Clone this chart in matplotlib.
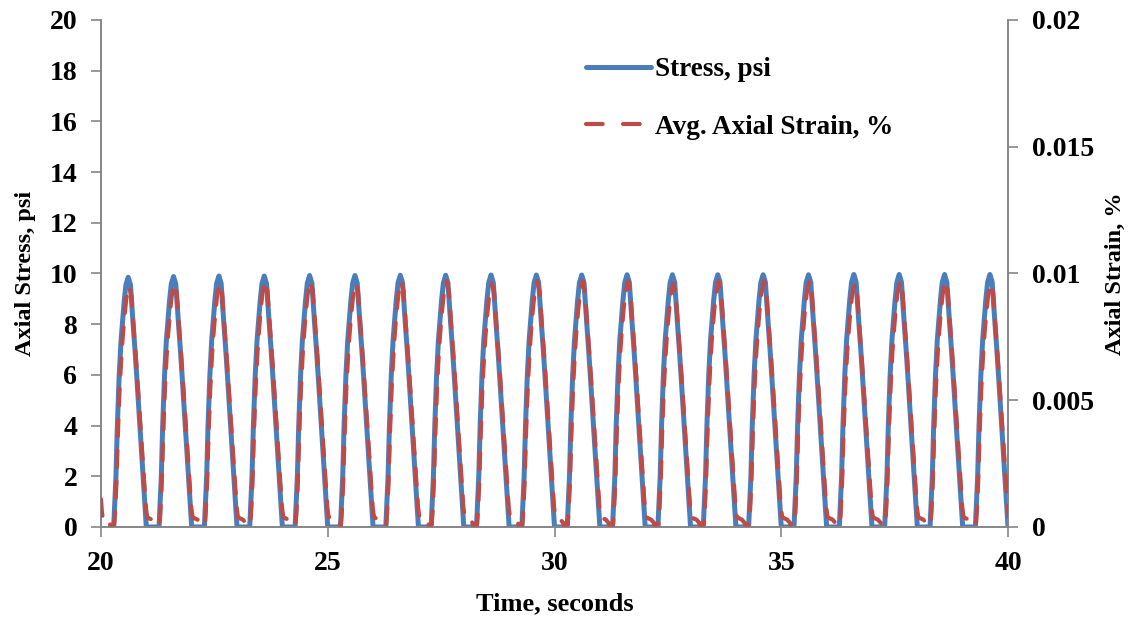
import numpy as np
import matplotlib
matplotlib.use('Agg')
import matplotlib.pyplot as plt
from matplotlib.lines import Line2D

# Load pulse peaks, one per second
peak_times = [20.6, 21.6, 22.6, 23.6, 24.6, 25.6, 26.6, 27.6, 28.6, 29.6,
              30.6, 31.6, 32.6, 33.6, 34.6, 35.6, 36.6, 37.6, 38.6, 39.6]
stress_peaks = [9.85, 9.88, 9.90, 9.90, 9.92, 9.92, 9.93, 9.93, 9.94, 9.94,
                9.94, 9.95, 9.95, 9.95, 9.95, 9.95, 9.96, 9.96, 9.96, 9.96]
strain_peaks = [0.0095, 0.0096, 0.0096, 0.0097, 0.0097, 0.0096, 0.0097, 0.0097, 0.0096, 0.0097,
                0.0097, 0.0097, 0.0096, 0.0097, 0.0097, 0.0097, 0.0096, 0.0097, 0.0097, 0.0096]

# Shape of one stress pulse (seconds from peak, fraction of peak)
stress_offsets = [-0.40, -0.32, -0.30, -0.27, -0.24, -0.20, -0.16, -0.13, -0.09, -0.05, 0.0,
                  0.05, 0.11, 0.15, 0.19, 0.26, 0.33, 0.37, 0.40, 0.60]
stress_shape = [0.0, 0.0, 0.08, 0.20, 0.40, 0.60, 0.74, 0.81, 0.90, 0.97, 1.0,
                0.97, 0.81, 0.71, 0.60, 0.40, 0.20, 0.08, 0.0, 0.0]

# Strain lags a little and does not fully recover between pulses
strain_offsets = [-0.40, -0.31, -0.29, -0.26, -0.23, -0.19, -0.15, -0.12, -0.08, -0.04, 0.02,
                  0.07, 0.13, 0.17, 0.21, 0.28, 0.35, 0.39, 0.42, 0.47, 0.53, 0.60]
strain_shape = [0.01, 0.01, 0.06, 0.18, 0.37, 0.57, 0.71, 0.79, 0.88, 0.95, 1.0,
                0.96, 0.80, 0.70, 0.59, 0.39, 0.19, 0.08, 0.04, 0.035, 0.03, 0.015]

# start of the record, tail of the previous pulse
strain_lead_t = [20.0, 20.02, 20.05, 20.10]
strain_lead_v = [0.0011, 0.0006, 0.0002, 0.0001]


def build_series(peaks, heights, offsets, shape):
    t, v = [], []
    for p, h in zip(peaks, heights):
        for o, s in zip(offsets, shape):
            t.append(p + o)
            v.append(h * s)
    return np.array(t), np.array(v)


stress_t, stress_v = build_series(peak_times, stress_peaks, stress_offsets, stress_shape)
strain_t, strain_v = build_series(peak_times, strain_peaks, strain_offsets, strain_shape)
keep = strain_t > strain_lead_t[-1]
strain_t = np.concatenate([strain_lead_t, strain_t[keep]])
strain_v = np.concatenate([strain_lead_v, strain_v[keep]])

plt.rcParams['font.family'] = ['Liberation Serif', 'DejaVu Serif']
plt.rcParams['font.weight'] = 'bold'

fig = plt.figure(figsize=(11.32, 6.21), dpi=100)
ax1 = fig.add_axes([0.0892, 0.1514, 0.8013, 0.8164])
ax2 = ax1.twinx()

axis_grey = '#868686'
blue = '#4A7EBB'
red = '#BE4B48'

ax1.plot(stress_t, stress_v, color=blue, lw=3.6, solid_capstyle='round',
         solid_joinstyle='round', zorder=2)
ax2.plot(strain_t, strain_v, color=red, lw=3.0, dashes=(4.0, 3.4),
         dash_capstyle='round', zorder=3)

ax1.set_xlim(20, 40)
ax1.set_ylim(0, 20)
ax2.set_ylim(0, 0.02)
ax1.set_xticks([20, 25, 30, 35, 40])
ax1.set_yticks(range(0, 21, 2))
ax2.set_yticks([0, 0.005, 0.01, 0.015, 0.02])
ax2.set_yticklabels(['0', '0.005', '0.01', '0.015', '0.02'])

for ax in (ax1, ax2):
    ax.spines['top'].set_visible(False)
    for s in ('left', 'right', 'bottom'):
        ax.spines[s].set_color(axis_grey)
        ax.spines[s].set_linewidth(1.2)
    ax.tick_params(colors=axis_grey, labelcolor='black', labelsize=20,
                   width=1.2, length=7, direction='out')
ax1.tick_params(axis='x', pad=10)
ax1.tick_params(axis='y', pad=10)
ax2.tick_params(axis='y', pad=10)

ax1.set_xlabel('Time, seconds', fontsize=19, fontweight='bold', labelpad=12)
ax1.set_ylabel('Axial Stress, psi', fontsize=17.5, fontweight='bold', labelpad=10)
ax2.set_ylabel('Axial Strain, %', fontsize=17.5, fontweight='bold', labelpad=8)

# legend keys drawn separately so the dashed key shows two full dashes
key_stress = Line2D([], [], color=blue, lw=3.6, solid_capstyle='round')
key_strain = Line2D([], [], color=red, lw=3.0, dashes=(4.0, 4.9), dash_capstyle='round')
ax2.legend([key_stress, key_strain], ['Stress, psi', 'Avg. Axial Strain, %'], loc='upper left',
           bbox_to_anchor=(0.508, 0.975), frameon=False, fontsize=19.5,
           handlelength=2.4, handletextpad=0.15, labelspacing=1.2)

fig.savefig('out.png', dpi=100)
